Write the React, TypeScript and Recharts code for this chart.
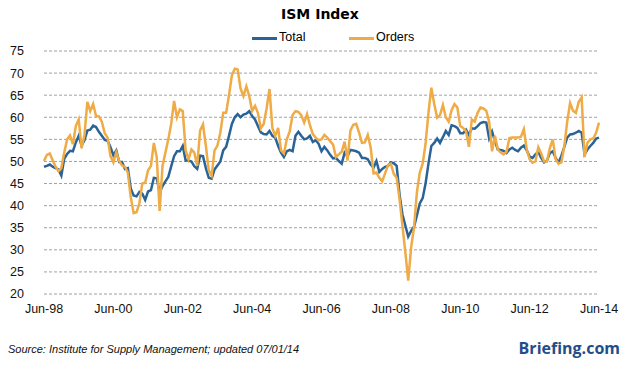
import { CartesianGrid, Legend, Line, LineChart, XAxis, YAxis } from "recharts";

// monthly readings, Jun-98 .. Jun-14
const total = [
  48.8, 49.0, 49.3, 48.8, 48.5, 48.2, 46.8, 50.6, 51.7, 52.4, 52.3, 54.3,
  55.8, 53.6, 54.8, 57.0, 57.2, 58.1, 57.8, 56.7, 55.8, 54.9, 54.7, 53.2,
  51.4, 52.5, 49.9, 49.9, 48.3, 48.5, 43.9, 42.3, 42.1, 43.1, 42.7, 41.3,
  43.2, 43.5, 46.3, 46.2, 43.0, 44.4, 45.5, 46.5, 48.9, 51.2, 52.3, 52.3,
  53.5, 50.2, 50.2, 50.0, 48.9, 48.3, 51.3, 51.2, 48.5, 46.3, 46.1, 48.2,
  49.1, 50.0, 52.5, 53.3, 55.8, 58.5, 60.0, 60.7, 60.0, 60.6, 60.8, 61.4,
  60.3, 59.5, 58.0, 56.6, 56.2, 56.1, 56.9, 55.8, 55.4, 53.5, 52.0, 51.0,
  52.3, 52.6, 52.3, 55.8, 56.7, 55.8, 55.0, 55.2, 55.8, 54.4, 54.8, 54.0,
  52.3, 53.3, 52.5, 51.5, 50.7, 50.8, 50.1, 49.5, 52.0, 51.2, 52.6, 52.5,
  52.3, 52.0, 50.8, 50.8, 50.5, 49.3, 48.6, 50.1, 47.6, 48.3, 48.8, 49.0,
  49.8, 49.6, 49.0, 42.5, 38.0, 35.5, 33.0, 34.3, 35.2, 37.8, 40.5, 41.7,
  45.0, 49.5, 53.5, 54.2, 55.2, 54.2, 55.5, 56.9, 56.0, 58.2, 58.0, 57.6,
  56.4, 56.4, 57.2, 56.0, 57.5, 57.4, 58.0, 58.7, 58.9, 58.8, 55.2, 56.8,
  54.6, 52.7, 52.6, 52.4, 51.9, 52.7, 53.1, 52.6, 52.3, 53.1, 53.6, 52.5,
  51.1, 50.8, 51.6, 52.2, 50.8, 49.8, 50.2, 51.9, 52.3, 50.8, 49.7, 51.3,
  53.3, 55.4, 56.1, 56.2, 56.5, 56.9, 56.5, 51.6, 52.7, 53.5, 54.2, 55.2, 55.4,
];

const orders = [
  50.1, 51.5, 51.8, 50.3, 48.8, 47.8, 48.5, 52.0, 55.0, 55.9, 53.9, 58.0,
  59.5, 53.0, 56.0, 63.5, 61.4, 63.0, 60.3, 60.2, 59.0, 56.4, 55.4, 51.2,
  49.8, 52.1, 50.1, 49.1, 48.8, 47.5, 42.0, 38.3, 38.5, 40.5, 45.0, 45.2,
  48.0, 49.0, 54.2, 51.0, 38.8, 49.0, 52.0, 55.0, 58.5, 63.7, 60.0, 61.8,
  61.4, 52.5, 50.5, 52.7, 52.0, 49.0, 57.0, 58.4, 53.5, 48.0, 46.8, 52.5,
  53.6, 56.5, 61.0, 61.0, 65.0, 69.5, 71.0, 70.8, 66.5, 64.8, 67.0, 64.8,
  61.4, 62.6, 61.0, 57.5, 58.5, 62.0, 66.4, 57.6, 55.8, 57.6, 52.5, 51.8,
  55.0, 56.8, 60.5, 61.4, 61.2, 60.5, 58.8, 60.7, 58.2, 56.2, 55.4, 54.8,
  55.0, 56.0, 55.4, 54.6, 53.8, 51.0, 51.6, 52.2, 54.5, 50.2, 57.0, 58.3,
  58.5, 56.5, 54.2, 54.3, 56.0, 53.2, 47.3, 47.5, 46.3, 45.5, 47.3, 49.2,
  49.5, 47.2, 46.3, 41.5, 35.5, 29.5, 23.0, 30.5, 35.0, 43.0, 47.5, 49.5,
  54.0, 61.0, 66.7, 63.0, 59.9, 60.5, 62.8, 60.0, 59.0, 61.6, 63.0, 62.2,
  58.0, 57.6, 56.8, 53.3, 59.5, 59.0, 61.0, 62.2, 62.0, 61.5, 59.0, 52.3,
  55.8, 52.7, 52.0, 51.6, 52.2, 55.3, 55.4, 55.4, 55.4, 55.6, 57.3, 52.7,
  50.5, 49.7, 50.0, 53.2, 51.8, 50.0, 50.0, 53.0, 55.0, 50.5, 49.5, 49.8,
  53.5, 59.0, 63.2, 61.5, 61.0, 63.5, 64.5, 51.0, 54.2, 55.0, 55.2, 56.5, 58.8,
];

const xTickLabels = ["Jun-98", "Jun-00", "Jun-02", "Jun-04", "Jun-06", "Jun-08", "Jun-10", "Jun-12", "Jun-14"];
const yTicks = [20, 25, 30, 35, 40, 45, 50, 55, 60, 65, 70, 75];

const BLUE = "#2a6497";
const ORANGE = "#efab45";
const AXIS_FONT = "'Liberation Sans Narrow', 'Liberation Sans', Arial, sans-serif";

const data = total.map((t, i) => ({ i, total: t, orders: orders[i] }));

// legend box is 16px tall; recharts adds it to the top margin
const LegendContent = () => (
  <div style={{ position: "relative", height: 16, fontFamily: AXIS_FONT, fontSize: 12.5 }}>
    <div style={{ position: "absolute", left: 252, top: 7, width: 25, height: 3, background: BLUE }} />
    <span style={{ position: "absolute", left: 279, top: 0 }}>Total</span>
    <div style={{ position: "absolute", left: 349, top: 7, width: 25, height: 3, background: ORANGE }} />
    <span style={{ position: "absolute", left: 376, top: 0 }}>Orders</span>
  </div>
);

export default function App() {
  return (
    <div style={{ position: "relative", width: 626, height: 367, background: "#fff" }}>
      <style>{`body{margin:0}`}</style>
      <div
        style={{
          position: "absolute", top: 6, left: 0, width: 640, textAlign: "center",
          fontFamily: "'DejaVu Sans', Verdana, sans-serif", fontWeight: "bold", fontSize: 14,
        }}
      >
        ISM Index
      </div>
      <LineChart width={626} height={367} data={data} margin={{ top: 35, right: 27, bottom: 0, left: 0 }}>
        <CartesianGrid vertical={false} stroke="#a0a0a8" strokeDasharray="3 2" />
        <XAxis
          dataKey="i"
          type="number"
          domain={[0, 192]}
          ticks={xTickLabels.map((_, k) => k * 24)}
          tickFormatter={(v: number) => xTickLabels[v / 24]}
          interval={0}
          height={73}
          axisLine={false}
          tickLine={false}
          tick={{ fill: "#111", fontSize: 12.5, fontFamily: AXIS_FONT }}
          tickMargin={4}
        />
        <YAxis
          domain={[20, 75]}
          ticks={yTicks}
          interval={0}
          width={44}
          axisLine={false}
          tickLine={false}
          tickMargin={14}
          tick={{ fill: "#111", fontSize: 12.5, fontFamily: AXIS_FONT }}
        />
        <Legend verticalAlign="top" content={<LegendContent />} wrapperStyle={{ top: 30, left: 0, width: 626 }} />
        <Line dataKey="total" stroke={BLUE} strokeWidth={2.5} dot={false} isAnimationActive={false} />
        <Line dataKey="orders" stroke={ORANGE} strokeWidth={2.5} dot={false} isAnimationActive={false} />
      </LineChart>
      <div
        style={{
          position: "absolute", left: 8, top: 343, fontStyle: "italic", fontSize: 11,
          fontFamily: "'Liberation Sans', Arial, sans-serif", color: "#111",
        }}
      >
        Source: Institute for Supply Management; updated 07/01/14
      </div>
      <div
        style={{
          position: "absolute", right: 6, top: 337, fontWeight: "bold", fontSize: 16,
          fontFamily: "'Open Sans', sans-serif", color: "#1f4e8a",
        }}
      >
        Briefing.com
      </div>
    </div>
  );
}
